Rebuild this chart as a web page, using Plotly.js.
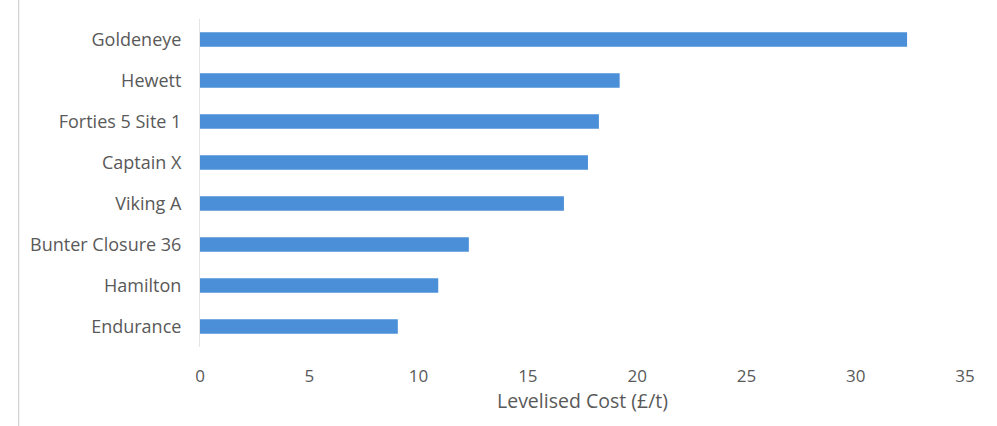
<!DOCTYPE html>
<html><head><meta charset="utf-8">
<script src="https://cdn.plot.ly/plotly-3.0.1.min.js"></script>
<style>html,body{margin:0;padding:0;background:#fff}#c{width:997px;height:426px}</style>
</head><body><div id="c"></div>
<script>
const categories = ["Endurance","Hamilton","Bunter Closure 36","Viking A","Captain X","Forties 5 Site 1","Hewett","Goldeneye"];
const levelisedCost = [9.05, 10.9, 12.3, 16.65, 17.75, 18.25, 19.2, 32.35];
const xTicks = [0,5,10,15,20,25,30,35];

const trace = {
  type: 'bar', orientation: 'h',
  y: categories, x: levelisedCost,
  marker: {color: '#4a8fd8'},
  width: 0.35,
  hoverinfo: 'x+y'
};
const layout = {
  width: 997, height: 426,
  margin: {l: 200, r: 32, t: 19, b: 79},
  paper_bgcolor: '#fff', plot_bgcolor: '#fff',
  font: {family: '"Open Sans", sans-serif', size: 17, color: '#595959'},
  showlegend: false,
  xaxis: {
    range: [0, 35], tickvals: xTicks, ticktext: xTicks.map(String),
    showgrid: false, zeroline: false, showline: false,
    ticks: 'outside', ticklen: 14, tickcolor: 'rgba(0,0,0,0)',
    tickfont: {size: 17, color: '#595959'},
    title: {text: 'Levelised Cost (£/t)', font: {size: 19.5, color: '#595959'}, standoff: 7}
  },
  yaxis: {
    showgrid: false, zeroline: false,
    showline: true, linecolor: '#e4e4e4', linewidth: 1,
    ticks: 'outside', ticklen: 14, tickcolor: 'rgba(0,0,0,0)',
    tickfont: {size: 18, color: '#595959'},
    range: [-0.5, 7.5]
  },
  shapes: [{type: 'line', xref: 'paper', yref: 'paper', x0: -0.237, x1: -0.237, y0: -0.3, y1: 1.1,
            line: {color: '#c8c8c8', width: 1}}]
};
Plotly.newPlot('c', [trace], layout, {displayModeBar: false, staticPlot: true});
</script></body></html>
